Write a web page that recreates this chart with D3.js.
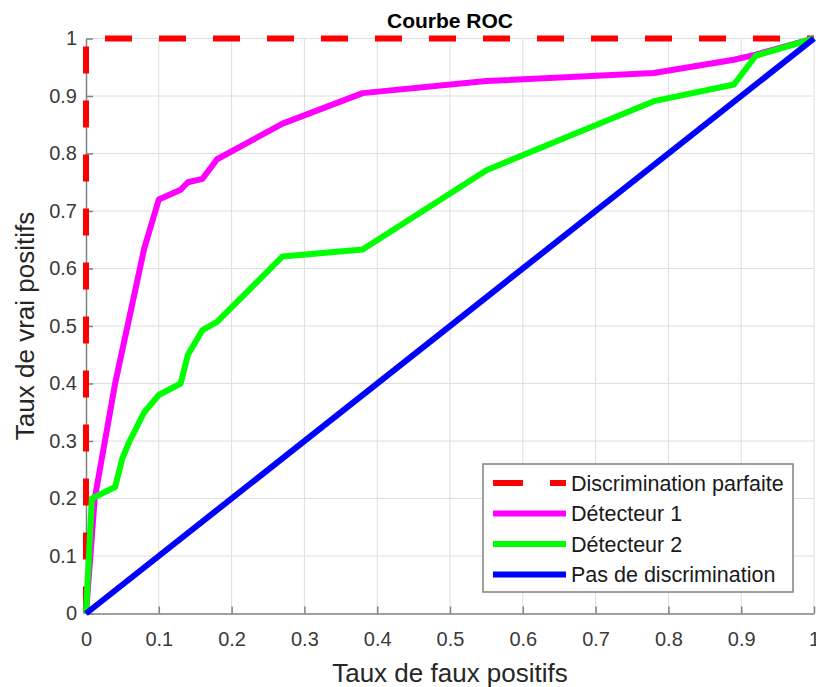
<!DOCTYPE html>
<html>
<head>
<meta charset="utf-8">
<script src="https://cdn.jsdelivr.net/npm/d3@7"></script>
<style>
  body { margin: 0; background: #fff; }
  svg { font-family: "Liberation Sans", Arial, Helvetica, sans-serif; }
  .grid line { stroke: #dedede; stroke-width: 1; }
  .axis path, .axis line { stroke: #808080; stroke-width: 1.5; }
  .axis text { fill: #3a3a3a; font-size: 20px; }
</style>
</head>
<body>
<svg width="816" height="687"></svg>
<script>
var width = 816,
    height = 687;

// data
var ticks = [0, 0.1, 0.2, 0.3, 0.4, 0.5, 0.6, 0.7, 0.8, 0.9, 1];

var perfect_x = [0, 0, 1];
var perfect_y = [0, 1, 1];

var det1_x = [0, 0.012, 0.04, 0.08, 0.10, 0.13, 0.14, 0.16, 0.18, 0.27, 0.38, 0.55, 0.78, 0.89, 0.92, 1];
var det1_y = [0, 0.20, 0.40, 0.635, 0.72, 0.737, 0.75, 0.756, 0.79, 0.852, 0.905, 0.926, 0.94, 0.963, 0.972, 1];

var det2_x = [0, 0.008, 0.04, 0.05, 0.06, 0.08, 0.10, 0.13, 0.14, 0.16, 0.18, 0.27, 0.38, 0.55, 0.78, 0.89, 0.92, 1];
var det2_y = [0, 0.20, 0.22, 0.27, 0.30, 0.35, 0.38, 0.40, 0.45, 0.493, 0.507, 0.621, 0.633, 0.771, 0.891, 0.92, 0.97, 1];

var chance_x = [0, 1];
var chance_y = [0, 1];

var series = [
    { name: "Discrimination parfaite", xs: perfect_x, ys: perfect_y, color: "#ff0000", dash: "27,27" },
    { name: "Détecteur 1", xs: det1_x, ys: det1_y, color: "#ff00ff", dash: null },
    { name: "Détecteur 2", xs: det2_x, ys: det2_y, color: "#00ff00", dash: null },
    { name: "Pas de discrimination", xs: chance_x, ys: chance_y, color: "#0000ff", dash: null }
];

var margin = { left: 86, right: 2, top: 38.5, bottom: 73.5 };

var x = d3.scaleLinear().domain([0, 1]).range([margin.left, width - margin.right]);
var y = d3.scaleLinear().domain([0, 1]).range([height - margin.bottom, margin.top]);

var svg = d3.select("svg");

// grid
var grid = svg.append("g").attr("class", "grid");
grid.selectAll(".gx")
    .data(ticks.slice(1))
    .join("line")
    .attr("x1", function (d) { return x(d); })
    .attr("x2", function (d) { return x(d); })
    .attr("y1", y(0))
    .attr("y2", y(1));
grid.selectAll(".gy")
    .data(ticks.slice(1))
    .join("line")
    .attr("x1", x(0))
    .attr("x2", x(1))
    .attr("y1", function (d) { return y(d); })
    .attr("y2", function (d) { return y(d); });

// axes, ticks pointing inward like matlab
svg.append("g")
    .attr("class", "axis")
    .attr("transform", "translate(0," + y(0) + ")")
    .call(d3.axisBottom(x).tickValues(ticks).tickFormat(d3.format("")).tickSizeInner(-7).tickSizeOuter(0).tickPadding(18));

svg.append("g")
    .attr("class", "axis")
    .attr("transform", "translate(" + x(0) + ",0)")
    .call(d3.axisLeft(y).tickValues(ticks).tickFormat(d3.format("")).tickSizeInner(-7).tickSizeOuter(0).tickPadding(9));

// curves
var line = d3.line()
    .x(function (d) { return x(d[0]); })
    .y(function (d) { return y(d[1]); });

svg.append("g")
    .selectAll("path")
    .data(series)
    .join("path")
    .attr("d", function (s) { return line(d3.zip(s.xs, s.ys)); })
    .attr("fill", "none")
    .attr("stroke", function (s) { return s.color; })
    .attr("stroke-width", 6)
    .attr("stroke-linejoin", "round")
    .attr("stroke-dasharray", function (s) { return s.dash; });

// title and labels
svg.append("text")
    .attr("x", (x(0) + x(1)) / 2)
    .attr("y", 28)
    .attr("text-anchor", "middle")
    .attr("font-weight", "bold")
    .attr("font-size", 21)
    .attr("fill", "#000")
    .text("Courbe ROC");

svg.append("text")
    .attr("x", (x(0) + x(1)) / 2)
    .attr("y", 682)
    .attr("text-anchor", "middle")
    .attr("font-size", 26)
    .attr("fill", "#262626")
    .text("Taux de faux positifs");

svg.append("text")
    .attr("transform", "translate(34," + (y(0) + y(1)) / 2 + ") rotate(-90)")
    .attr("text-anchor", "middle")
    .attr("font-size", 26)
    .attr("fill", "#262626")
    .text("Taux de vrai positifs");

// legend
var legend = svg.append("g").attr("transform", "translate(483,464)");
legend.append("rect")
    .attr("width", 310)
    .attr("height", 128)
    .attr("fill", "#fff")
    .attr("stroke", "#808080")
    .attr("stroke-width", 1.5);

var entry = legend.selectAll(".entry")
    .data(series)
    .join("g")
    .attr("transform", function (d, i) { return "translate(0," + (19 + i * 30.5) + ")"; });

entry.append("line")
    .attr("x1", 10)
    .attr("x2", 83)
    .attr("stroke", function (s) { return s.color; })
    .attr("stroke-width", 6)
    .attr("stroke-dasharray", function (s) { return s.dash ? "30,27" : null; });

entry.append("text")
    .attr("x", 88)
    .attr("dy", "0.35em")
    .attr("font-size", 21.5)
    .attr("fill", "#1a1a1a")
    .text(function (s) { return s.name; });
</script>
</body>
</html>
